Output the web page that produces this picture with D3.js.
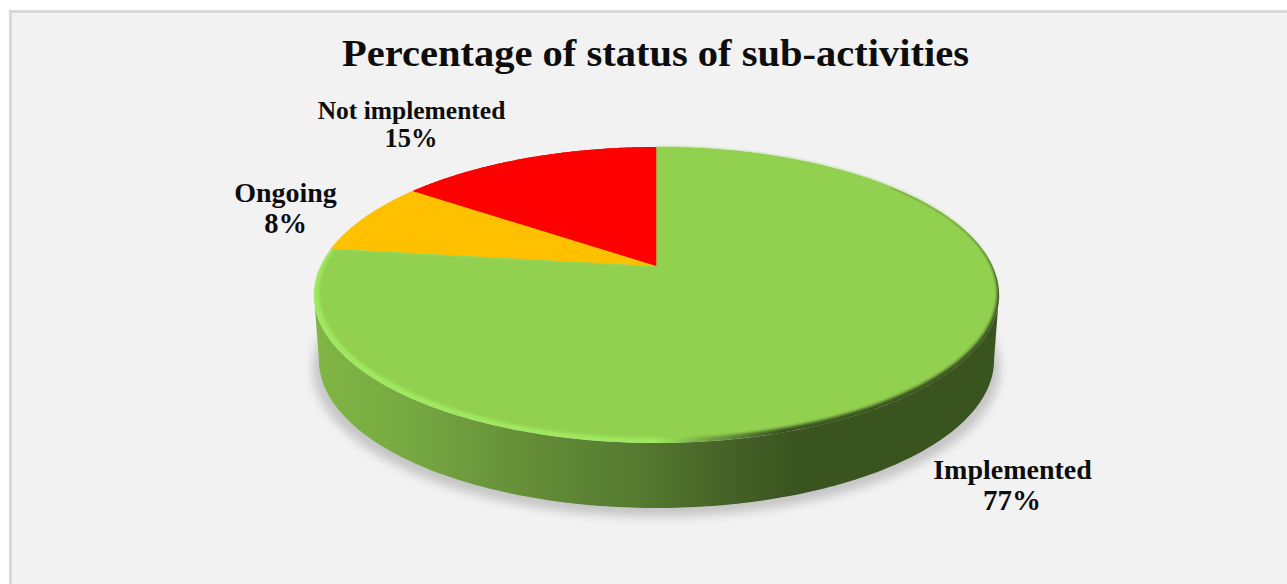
<!DOCTYPE html>
<html>
<head>
<meta charset="utf-8">
<script src="https://cdn.jsdelivr.net/npm/d3@7/dist/d3.min.js"></script>
<style>
html,body{margin:0;padding:0;background:#fff;overflow:hidden}
svg{display:block}
text{font-family:"Liberation Serif","Times New Roman",serif;font-weight:bold;fill:#0d0d0d;text-anchor:middle}
</style>
</head>
<body>
<svg id="chart" width="1287" height="584"></svg>
<script>
const titleText = "Percentage of status of sub-activities";
const categories = ["Implemented", "Ongoing", "Not implemented"];
const seriesValues = [77, 8, 15];
const sliceColors = ["#92d050", "#ffc000", "#ff0000"];

const svg = d3.select("#chart");
const W = 1287, H = 584;
const defs = svg.append("defs");

// perspective projection of the pie's disc
const k = -0.196;
function projector(cx, cy, rx, ry) {
  return (theta, r = 1) => {
    const u = Math.sin(theta) * r, v = -Math.cos(theta) * r;
    const w = 1 + k * v;
    return [cx + rx * u / w, cy + ry * v / w];
  };
}
const topDisc = projector(656.5, 266, 336, 142.3);
const faceDisc = projector(658, 264, 332.5, 140);
const baseDisc = projector(656.5, 331, 331, 142.3);

const pie = d3.pie().sort(null).value(d => d);
const arcs = pie(seriesValues);
const lineGen = d3.line();
const sweep = (proj, a0, a1, n = 180) =>
  d3.range(n + 1).map(i => proj(a0 + (a1 - a0) * i / n));
const deg = d3.scaleLinear().domain([0, 360]).range([0, 2 * Math.PI]);

// gradients
const wallGrad = defs.append("linearGradient").attr("id", "wall")
  .attr("gradientUnits", "userSpaceOnUse").attr("x1", 316).attr("x2", 1000).attr("y1", 0).attr("y2", 0);
[[0, "#80b645"], [0.14, "#76a841"], [0.3, "#668f38"], [0.47, "#557a30"], [0.62, "#445f26"], [0.7, "#3a5420"], [1, "#3a5420"]]
  .forEach(s => wallGrad.append("stop").attr("offset", s[0]).attr("stop-color", s[1]));
const rimGrad = defs.append("linearGradient").attr("id", "rim")
  .attr("gradientUnits", "userSpaceOnUse").attr("x1", 314).attr("x2", 1000).attr("y1", 0).attr("y2", 0);
[[0, "#9fe85f"], [0.5, "#9fe85f"], [0.58, "#6f9f3e"], [0.68, "#3a5420"], [1, "#3a5420"]]
  .forEach(s => rimGrad.append("stop").attr("offset", s[0]).attr("stop-color", s[1]));
defs.append("filter").attr("id", "soft").attr("x", "-10%").attr("y", "-10%").attr("width", "120%").attr("height", "120%")
  .append("feGaussianBlur").attr("stdDeviation", 1.4);
defs.append("filter").attr("id", "shadow").attr("x", "-10%").attr("y", "-20%").attr("width", "120%").attr("height", "140%")
  .append("feGaussianBlur").attr("stdDeviation", 5);

// panel
svg.append("rect").attr("x", 9).attr("y", 10).attr("width", W).attr("height", H).attr("fill", "#d9d9d9");
svg.append("rect").attr("x", 12).attr("y", 13).attr("width", W).attr("height", H).attr("fill", "#f2f2f2");

// drop shadow
const near = [deg(259), deg(101)];
const baseNear = sweep(baseDisc, near[0], near[1]);
const topNear = sweep(topDisc, near[0], near[1]);
svg.append("path")
  .attr("d", lineGen(sweep(projector(656.5, 339, 337, 143), 0, 2 * Math.PI)) + "Z")
  .attr("fill", "#c6c6c6").attr("filter", "url(#shadow)");

// wall
svg.append("path")
  .attr("d", lineGen(topNear.concat(baseNear.slice().reverse())) + "Z")
  .attr("fill", "url(#wall)");

// slices
const slices = svg.append("g");
arcs.forEach((d, i) => {
  const pts = [topDisc(0, 0)].concat(sweep(topDisc, d.startAngle, d.endAngle));
  slices.append("path").attr("d", lineGen(pts) + "Z").attr("fill", i === 0 ? "url(#rim)" : sliceColors[i]);
});
// bevel highlight is the rim left uncovered by the face of the big slice
const big = arcs[0];
const facePts = [topDisc(0, 0), topDisc(big.startAngle)]
  .concat(sweep(faceDisc, big.startAngle + 0.02, big.endAngle - 0.03))
  .concat([topDisc(big.endAngle)]);
slices.append("path").attr("d", lineGen(facePts) + "Z").attr("fill", sliceColors[0]).attr("filter", "url(#soft)");
// restore crisp edges of the wedge seams
arcs.slice(1).forEach((d, i) => {
  const pts = [topDisc(0, 0)].concat(sweep(topDisc, d.startAngle, d.endAngle));
  slices.append("path").attr("d", lineGen(pts) + "Z").attr("fill", sliceColors[i + 1]);
});
// upper-right rim edge stays face-coloured
slices.append("path")
  .attr("d", lineGen([topDisc(0, 0)].concat(sweep(topDisc, 0, deg(52)))) + "Z")
  .attr("fill", sliceColors[0]);

// title
svg.append("text").attr("x", 655.5).attr("y", 66).attr("font-size", 37).attr("textLength", 627)
  .attr("lengthAdjust", "spacingAndGlyphs").text(titleText);

// labels
const labelPos = [[1012.5, 479, 1012, 510], [285.5, 202, 285.5, 233], [411.5, 119, 411, 147]];
const labelSize = [28, 28, 25.5];
const percentSize = [29, 28.5, 26.5];
categories.forEach((c, i) => {
  const p = labelPos[i];
  svg.append("text").attr("x", p[0]).attr("y", p[1]).attr("font-size", labelSize[i]).text(c);
  svg.append("text").attr("x", p[2]).attr("y", p[3]).attr("font-size", percentSize[i])
    .text(d3.format(".0%")(seriesValues[i] / d3.sum(seriesValues)));
});
</script>
</body>
</html>
